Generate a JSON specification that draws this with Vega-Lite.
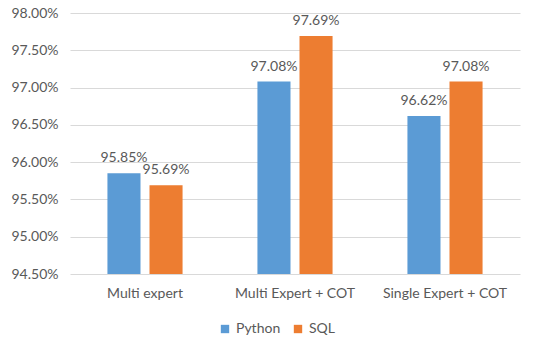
{
  "$schema": "https://vega.github.io/schema/vega-lite/v6.json",
  "width": 450,
  "height": 261,
  "autosize": {"type": "none"},
  "padding": {"left": 70, "top": 13, "right": 30, "bottom": 65},
  "background": "white",
  "config": {
    "view": {"stroke": null},
    "font": "Lato",
    "axis": {"labelFont": "Lato", "labelColor": "#595959", "labelFontSize": 14},
    "legend": {"labelFont": "Lato", "labelColor": "#595959", "labelFontSize": 14}
  },
  "data": {
    "values": [
      {"method": "Multi expert", "lang": "Python", "acc": 0.9585},
      {"method": "Multi expert", "lang": "SQL", "acc": 0.9569},
      {"method": "Multi Expert + COT", "lang": "Python", "acc": 0.9708},
      {"method": "Multi Expert + COT", "lang": "SQL", "acc": 0.9769},
      {"method": "Single Expert + COT", "lang": "Python", "acc": 0.9662},
      {"method": "Single Expert + COT", "lang": "SQL", "acc": 0.9708}
    ]
  },
  "encoding": {
    "x": {
      "field": "method", "type": "nominal", "sort": null,
      "scale": {"paddingInner": 0, "paddingOuter": 0},
      "axis": {"title": null, "labelAngle": 0, "ticks": false, "domain": false, "labelPadding": 12}
    },
    "xOffset": {
      "field": "lang", "type": "nominal",
      "scale": {"paddingInner": 0.214, "paddingOuter": 0.89}
    },
    "y": {
      "field": "acc", "type": "quantitative",
      "scale": {"domain": [0.945, 0.98], "zero": false, "nice": false},
      "axis": {"title": null, "format": ".2%", "values": [0.945,0.95,0.955,0.96,0.965,0.97,0.975,0.98], "ticks": false, "domain": false, "gridColor": "#d9d9d9", "labelPadding": 12}
    }
  },
  "layer": [
    {
      "mark": {"type": "bar"},
      "encoding": {
        "y2": {"datum": 0.945},
        "color": {
          "field": "lang", "type": "nominal",
          "scale": {"domain": ["Python", "SQL"], "range": ["#5b9bd5", "#ed7d31"]},
          "legend": {"title": null, "orient": "none", "direction": "horizontal", "legendX": 148, "legendY": 309, "symbolType": "square", "symbolSize": 70, "symbolStrokeWidth": 0, "columnPadding": 10, "labelOffset": 4, "labelFont": "Lato", "labelFontSize": 14}
        }
      }
    },
    {
      "mark": {"type": "text", "dy": -15, "fontSize": 14, "color": "#595959", "font": "Lato"},
      "encoding": {
        "text": {"field": "acc", "type": "quantitative", "format": ".2%"}
      }
    }
  ]
}
